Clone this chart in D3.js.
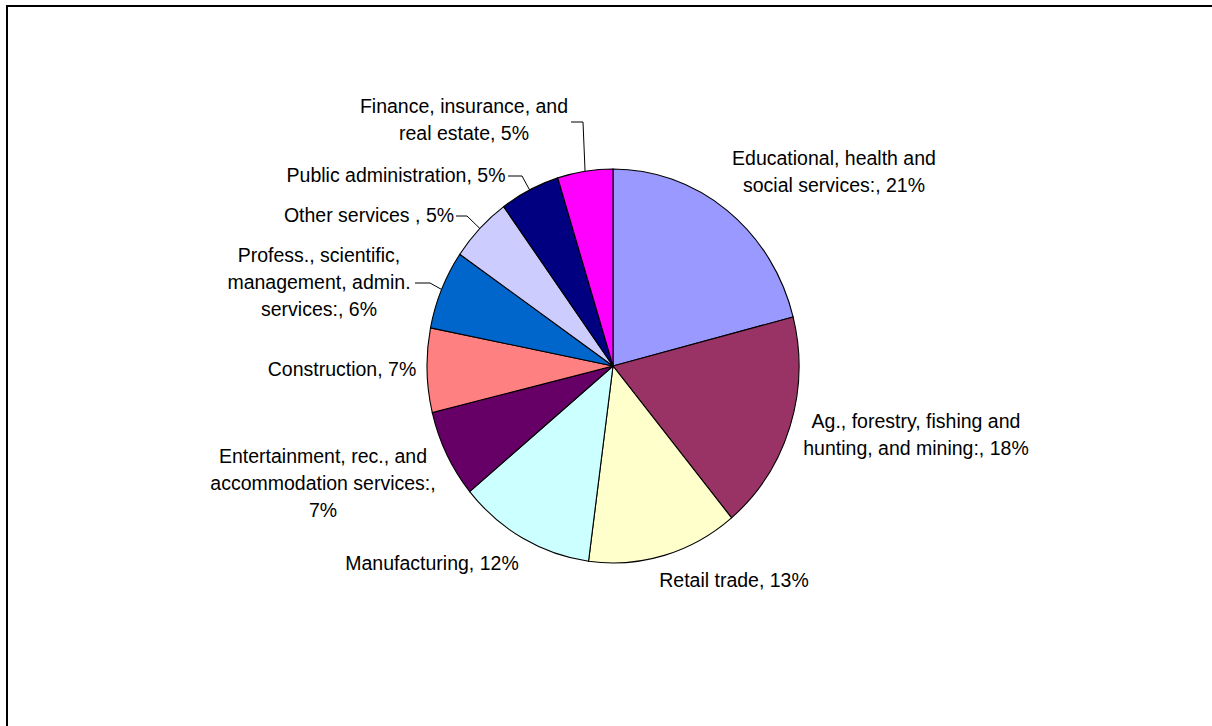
<!DOCTYPE html>
<html>
<head>
  <meta charset="utf-8">
  <script src="https://d3js.org/d3.v7.min.js"></script>
  <style type="text/css">
    body { margin: 0; background: #fff; }
    svg { display: block; }
    text { font-family: "Liberation Sans", Arial, sans-serif; font-size: 19.5px; fill: #000; }
  </style>
</head>
<body>
  <div id="chartContainer"></div>

  <script type="text/javascript">
    // data
    var sectors = ['Educational, health and social services:', 'Ag., forestry, fishing and hunting, and mining:',
      'Retail trade', 'Manufacturing', 'Entertainment, rec., and accommodation services:', 'Construction',
      'Profess., scientific, management, admin. services:', 'Other services ', 'Public administration',
      'Finance, insurance, and real estate'];
    var shares = [21.0, 18.0, 13.1, 11.9, 7.2, 6.9, 6.5, 5.4, 5.2, 4.8];
    var shownPct = [21, 18, 13, 12, 7, 7, 6, 5, 5, 5];
    var colors = ['#9999ff', '#993366', '#ffffcc', '#ccffff', '#660066', '#ff8080', '#0066cc', '#ccccff', '#000080', '#ff00ff'];

    // how each label text is broken into lines
    var labelLines = [
      ['Educational, health and', 'social services:, 21%'],
      ['Ag., forestry, fishing and', 'hunting, and mining:, 18%'],
      ['Retail trade, 13%'],
      ['Manufacturing, 12%'],
      ['Entertainment, rec., and', 'accommodation services:,', '7%'],
      ['Construction, 7%'],
      ['Profess., scientific,', 'management, admin.', 'services:, 6%'],
      ['Other services , 5%'],
      ['Public administration, 5%'],
      ['Finance, insurance, and', 'real estate, 5%']
    ];

    // layout: label centre x, first line middle y, leader elbow (if any)
    var labelLayout = [
      {x: 834, y: 158},
      {x: 916, y: 421},
      {x: 734, y: 580},
      {x: 432, y: 563},
      {x: 323, y: 456},
      {x: 342, y: 369},
      {x: 319, y: 255, leader: {line: 1, elbow: [430, 283], start: 415}},
      {x: 369, y: 215, leader: {line: 0, elbow: [467, 216], start: 456}},
      {x: 396, y: 175, leader: {line: 0, elbow: [522, 176], start: 508}},
      {x: 464, y: 106, leader: {line: 0, elbow: [583, 122], start: 571}}
    ];

    var width = 1212, height = 726;
    var cx = 613, cy = 366, rx = 186, ry = 197;
    var lineGap = 27;

    var svg = d3.select('#chartContainer').append('svg')
      .attr('width', width).attr('height', height);

    // chart frame (runs off the right and bottom edge)
    svg.append('rect')
      .attr('x', 7).attr('y', 6)
      .attr('width', width).attr('height', height)
      .attr('fill', 'none').attr('stroke', '#000').attr('stroke-width', 2);

    var data = sectors.map(function(s, i) {
      return {name: s, value: shares[i], pct: shownPct[i], color: colors[i], i: i};
    });

    var pie = d3.pie().sort(null).value(function(d) { return d.value; });
    var arcs = pie(data);
    var arc = d3.arc().innerRadius(0).outerRadius(rx);

    var g = svg.append('g')
      .attr('transform', 'translate(' + cx + ',' + cy + ') scale(1,' + (ry / rx) + ')');

    g.selectAll('path')
      .data(arcs)
      .enter().append('path')
      .attr('d', arc)
      .attr('fill', function(d) { return d.data.color; })
      .attr('stroke', '#000')
      .attr('stroke-width', 1.1)
      .attr('vector-effect', 'non-scaling-stroke');

    // labels
    arcs.forEach(function(a, i) {
      var lay = labelLayout[i];
      var t = svg.append('text')
        .attr('text-anchor', 'middle');
      labelLines[i].forEach(function(line, k) {
        t.append('tspan')
          .attr('x', lay.x)
          .attr('y', lay.y + k * lineGap + 7)
          .text(line);
      });

      if (lay.leader) {
        var mid = (a.startAngle + a.endAngle) / 2;
        var ex = cx + rx * Math.sin(mid), ey = cy - ry * Math.cos(mid);
        var ly = lay.leader.elbow[1];
        svg.append('polyline')
          .attr('points', [[lay.leader.start, ly], lay.leader.elbow, [ex, ey]].map(function(p) { return p.join(','); }).join(' '))
          .attr('fill', 'none')
          .attr('stroke', '#000')
          .attr('stroke-width', 1);
      }
    });
  </script>
</body>
</html>
